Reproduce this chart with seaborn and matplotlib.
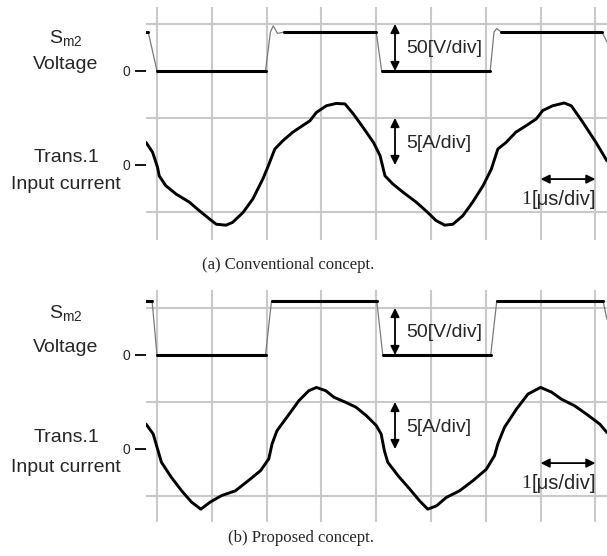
import numpy as np
import pandas as pd
import matplotlib
matplotlib.use("Agg")
import matplotlib.pyplot as plt
import seaborn as sns

# ---------------- data (time in us, voltage in V, current in A) ----------------
# (a) Conventional concept
t_va = [-0.2, -0.16, 0.0, 1.98, 2.07, 2.12, 2.2, 2.32, 4.0, 4.1, 6.08, 6.15, 6.2, 6.28, 8.12, 8.21]
v_a = [41.5, 41.5, 0, 0, 41.5, 48, 40, 41.5, 41.5, 0, 0, 41.5, 45, 41.5, 41.5, 31]
t_ia = [-0.2, -0.08, 0.01, 0.04, 0.16, 0.35, 0.59, 0.77, 0.96, 1.08, 1.26, 1.38, 1.57,
        1.75, 1.93, 2.02, 2.15, 2.30, 2.48, 2.66, 2.79, 2.91, 3.09, 3.27, 3.43, 3.58,
        3.76, 3.95, 4.07, 4.16, 4.30, 4.49, 4.73, 4.94, 5.09, 5.25, 5.40, 5.58, 5.76,
        5.95, 6.10, 6.22, 6.37, 6.55, 6.74, 6.92, 7.04, 7.22, 7.43, 7.56, 7.77, 8.01, 8.21]
i_a = [2.4, 1.35, -0.25, -1.15, -2.2, -3.1, -3.95, -4.85, -5.75, -6.3, -6.4, -6.1, -5.05,
       -3.6, -1.5, -0.25, 1.7, 2.6, 3.5, 4.2, 4.7, 5.6, 6.3, 6.55, 6.5, 5.45,
       4.0, 2.4, 1.0, -1.15, -2.0, -2.9, -3.95, -5.05, -5.9, -6.4, -6.3, -5.4, -3.95,
       -2.2, -0.45, 1.7, 2.4, 3.5, 4.2, 4.9, 5.8, 6.3, 6.6, 6.3, 4.55, 2.4, 0.45]

# (b) Proposed concept
t_vb = [-0.2, -0.09, 0.0, 1.98, 2.09, 4.01, 4.12, 6.09, 6.2, 8.14, 8.21]
v_b = [57.5, 57.5, 0, 0, 57.5, 57.5, 0, 0, 57.5, 57.5, 38]
t_ib = [-0.2, -0.07, 0.02, 0.08, 0.26, 0.45, 0.63, 0.80, 0.97, 1.18, 1.43, 1.67, 1.89,
        2.04, 2.10, 2.19, 2.41, 2.59, 2.77, 2.91, 3.08, 3.23, 3.45, 3.63, 3.82, 4.00,
        4.09, 4.15, 4.21, 4.40, 4.61, 4.79, 4.94, 5.10, 5.28, 5.52, 5.77, 6.01, 6.16,
        6.22, 6.34, 6.56, 6.77, 7.00, 7.20, 7.38, 7.62, 7.84, 8.08, 8.21]
i_b = [2.65, 1.6, -0.2, -1.4, -3.0, -4.45, -5.65, -6.4, -5.65, -4.95, -4.45, -3.35, -2.3,
       -1.05, 0.55, 1.95, 3.7, 5.15, 6.2, 6.55, 6.2, 5.5, 4.95, 4.45, 3.55, 2.5,
       1.6, -0.2, -1.4, -2.85, -4.25, -5.5, -6.4, -6.05, -5.15, -4.45, -3.35, -2.15, -0.7,
       0.55, 2.3, 4.25, 5.85, 6.55, 6.05, 5.3, 4.6, 3.7, 2.65, 1.75]

V_PER_DIV = 50
A_PER_DIV = 5
V_OFFSET_DIV = 2  # voltage trace zero sits two divisions above current zero

panels = [
    dict(tv=t_va, v=v_a, ti=t_ia, i=i_a, caption="(a) Conventional concept.",
         top=7, bottom=240, izero=165, labels=(38, 65, 157, 185), cap=(288, 265)),
    dict(tv=t_vb, v=v_b, ti=t_ib, i=i_b, caption="(b) Proposed concept.",
         top=290, bottom=522, izero=449, labels=(313, 347, 437, 468), cap=(301, 538)),
]

W, H = 607, 556
sns.set_style("white")
plt.rcParams["font.family"] = ["Liberation Sans", "DejaVu Sans"]
plt.rcParams["mathtext.fontset"] = "custom"
plt.rcParams["mathtext.rm"] = "Liberation Sans"
plt.rcParams["mathtext.it"] = "Liberation Sans:italic"

fig = plt.figure(figsize=(W / 100, H / 100), dpi=100)

x_left_px, x_right_px = 146, 607
x0_px = 157
div_px_x = 54.8
div_px_y = 47.0

for p in panels:
    xmin = (x_left_px - x0_px) / div_px_x
    xmax = (x_right_px - x0_px) / div_px_x
    ytop = (p["izero"] - p["top"]) / div_px_y
    ybot = (p["izero"] - p["bottom"]) / div_px_y
    ax = fig.add_axes([x_left_px / W, 1 - p["bottom"] / H,
                       (x_right_px - x_left_px) / W, (p["bottom"] - p["top"]) / H])
    ax.set_xlim(xmin, xmax)
    ax.set_ylim(ybot, ytop)
    for s in ax.spines.values():
        s.set_visible(False)
    ax.set_xticks([])
    ax.set_xticks(np.arange(0, 9), minor=True)
    ax.set_yticks([0, V_OFFSET_DIV])
    ax.set_yticklabels(["0", "0"], fontsize=10)
    ax.set_yticks(np.arange(-1, 4), minor=True)
    ax.tick_params(axis="y", which="major", left=True, length=8, width=1.3,
                   color="black", pad=3, direction="out")
    ax.tick_params(which="minor", length=0, left=False, bottom=False)
    ax.grid(which="minor", color="#c9c9c9", lw=1.5)
    ax.grid(which="major", visible=False)
    ax.set_axisbelow(True)

    # voltage trace: thin gray edges, thick black flat levels
    tv = np.array(p["tv"], float)
    vd = np.array(p["v"], float) / V_PER_DIV + V_OFFSET_DIV
    sns.lineplot(x=tv, y=vd, ax=ax, color="#7a7a7a", lw=0.9, sort=False, estimator=None)
    for k in range(len(tv) - 1):
        if vd[k] == vd[k + 1]:
            sns.lineplot(x=tv[k:k + 2], y=vd[k:k + 2], ax=ax, color="black", lw=2.2,
                         sort=False, estimator=None)

    # current trace
    ti = np.array(p["ti"], float)
    idv = np.array(p["i"], float) / A_PER_DIV
    sns.lineplot(x=ti, y=idv, ax=ax, color="black", lw=2.1, sort=False, estimator=None)
    ax.set_xlabel("")
    ax.set_ylabel("")

    # scale annotations
    arr = dict(arrowstyle="<|-|>", color="black", lw=1.3, mutation_scale=13,
               shrinkA=0, shrinkB=0)
    xa = (395 - x0_px) / div_px_x
    ax.annotate("", xy=(xa, V_OFFSET_DIV), xytext=(xa, V_OFFSET_DIV + 1), arrowprops=arr)
    ax.text((406 - x0_px) / div_px_x, V_OFFSET_DIV + 0.47, "50[V/div]", fontsize=14,
            va="center", ha="left")
    ax.annotate("", xy=(xa, 0), xytext=(xa, 1), arrowprops=arr)
    ax.text((406 - x0_px) / div_px_x, 0.45, "5[A/div]", fontsize=14, va="center", ha="left")
    ax.annotate("", xy=(7, -0.3), xytext=(8, -0.3), arrowprops=arr)
    ax.text((531 - x0_px) / div_px_x, -0.73, "1", fontsize=14, va="center", ha="right",
            family="Liberation Serif")
    ax.text((532 - x0_px) / div_px_x, -0.73, "[μs/div]", fontsize=14.5, va="center", ha="left")

    # left labels
    ys, yv, yt, yc = p["labels"]
    fig.text(66 / W, 1 - ys / H, r"S$_{\mathrm{m2}}$", fontsize=14, ha="center", va="center")
    fig.text(66 / W, 1 - yv / H, "Voltage", fontsize=14, ha="center", va="center")
    fig.text(66 / W, 1 - yt / H, "Trans.1", fontsize=14, ha="center", va="center")
    fig.text(66 / W, 1 - yc / H, "Input current", fontsize=14, ha="center", va="center")

    cx, cy = p["cap"]
    fig.text(cx / W, 1 - cy / H, p["caption"], fontsize=12, ha="center", va="center",
             family="Liberation Serif")

fig.savefig("out.png", dpi=100)
